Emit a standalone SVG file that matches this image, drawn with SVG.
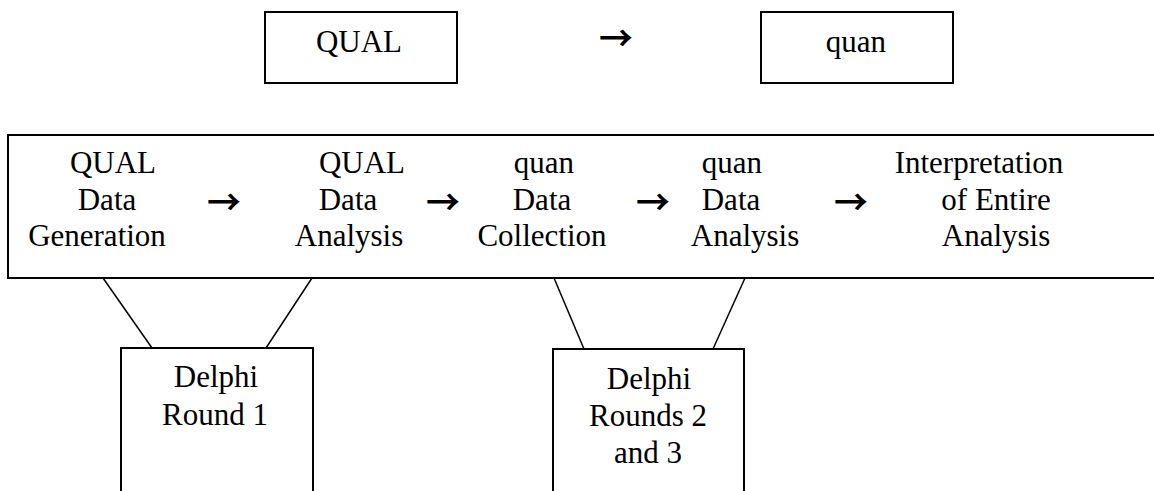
<svg xmlns="http://www.w3.org/2000/svg" width="1154" height="491" viewBox="0 0 1154 491">
<style>
.box{fill:#fff;stroke:#000;stroke-width:2}
.t{font-family:"Liberation Serif","Times New Roman",serif;font-size:31px;fill:#000;text-anchor:middle}
.ar{font-family:"Noto Sans CJK JP",sans-serif;font-size:34px;font-weight:bold;fill:#000;text-anchor:middle}
.ln{stroke:#000;stroke-width:1.5;fill:none}
</style>
<rect width="1154" height="491" fill="#fff"/>
<g id="qual-top">
<rect class="box" x="265" y="12" width="192" height="71"/>
<text class="t" x="359" y="52">QUAL</text>
</g>
<text id="top-arrow" class="ar" x="616" y="51">→</text>
<g id="quan-top">
<rect class="box" x="761" y="12" width="192" height="71"/>
<text class="t" x="856" y="52">quan</text>
</g>
<g id="main">
<rect class="box" x="8" y="135" width="1160" height="143"/>
<g id="qual-gen">
<text class="t" x="113" y="173">QUAL</text>
<text class="t" x="107" y="210">Data</text>
<text class="t" x="97" y="246">Generation</text>
</g>
<text class="ar" x="224" y="215">→</text>
<g id="qual-ana">
<text class="t" x="362" y="173">QUAL</text>
<text class="t" x="348" y="210">Data</text>
<text class="t" x="349" y="246">Analysis</text>
</g>
<text class="ar" x="443" y="215">→</text>
<g id="quan-col">
<text class="t" x="544" y="173">quan</text>
<text class="t" x="542" y="210">Data</text>
<text class="t" x="542" y="246">Collection</text>
</g>
<text class="ar" x="653" y="215">→</text>
<g id="quan-ana">
<text class="t" x="732" y="173">quan</text>
<text class="t" x="731" y="210">Data</text>
<text class="t" x="745" y="246">Analysis</text>
</g>
<text class="ar" x="851" y="215">→</text>
<g id="interp">
<text class="t" x="979" y="173">Interpretation</text>
<text class="t" x="996" y="210">of Entire</text>
<text class="t" x="996" y="246">Analysis</text>
</g>
</g>
<g id="connectors">
<line class="ln" x1="103" y1="278" x2="152" y2="348"/>
<line class="ln" x1="312" y1="278" x2="266" y2="348"/>
<line class="ln" x1="554" y1="278" x2="584" y2="349"/>
<line class="ln" x1="745" y1="278" x2="713" y2="349"/>
</g>
<g id="delphi1">
<rect class="box" x="121" y="348" width="192" height="160"/>
<text class="t" x="216" y="387">Delphi</text>
<text class="t" x="215" y="425">Round 1</text>
</g>
<g id="delphi23">
<rect class="box" x="553" y="349" width="191" height="160"/>
<text class="t" x="649" y="389">Delphi</text>
<text class="t" x="648" y="426">Rounds 2</text>
<text class="t" x="648" y="463">and 3</text>
</g>
</svg>
